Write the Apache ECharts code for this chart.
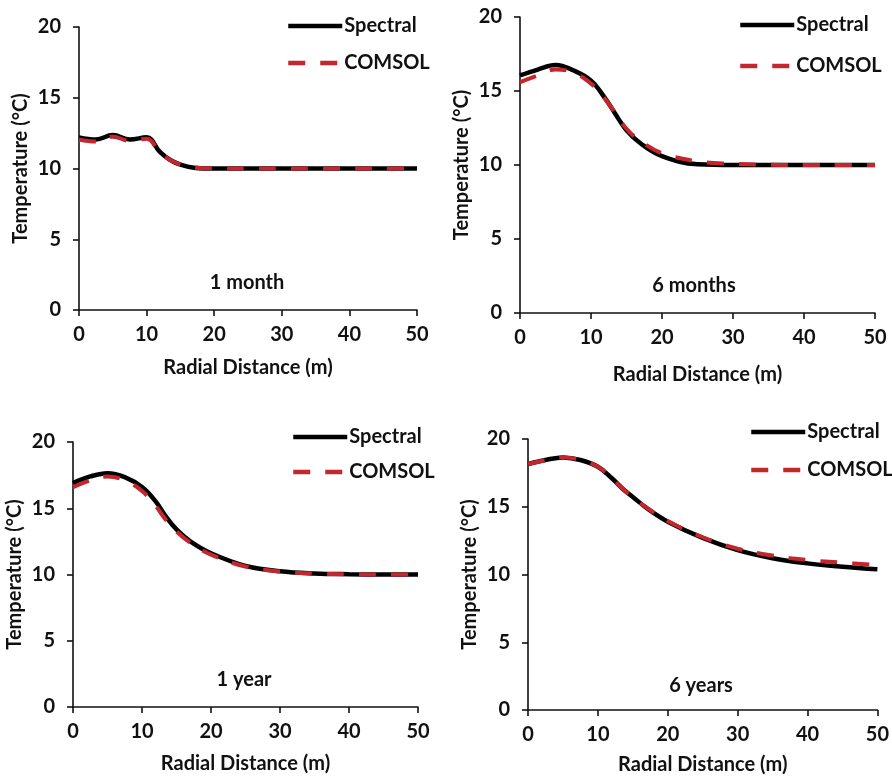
<!DOCTYPE html>
<html>
<head>
<meta charset="utf-8">
<script src="https://cdn.jsdelivr.net/npm/echarts@6/dist/echarts.min.js"></script>
<style>
  html, body { margin: 0; padding: 0; background: #fff; }
  #chart { width: 892px; height: 780px; }
</style>
</head>
<body>
<div id="chart"></div>
<script>
  // radial distance samples (m), shared by all panels
  const radialDistance = [0, 2.5, 5, 7.5, 10, 12, 13.5, 15, 17, 20, 25, 30, 35, 40, 45, 50];

  // temperature (°C)
  const spectral1Month = [12.2, 12.05, 12.37, 12.05, 12.2, 11.15, 10.6, 10.28, 10.06, 10.0, 10.0, 10.0, 10.0, 10.0, 10.0, 10.0];
  const comsol1Month   = [12.05, 11.9, 12.25, 11.95, 12.1, 11.1, 10.6, 10.28, 10.06, 10.0, 10.0, 10.0, 10.0, 10.0, 10.0, 10.0];

  const spectral6Months = [16.05, 16.45, 16.75, 16.4, 15.7, 14.5, 13.4, 12.35, 11.45, 10.6, 10.05, 10.0, 10.0, 10.0, 10.0, 10.0];
  const comsol6Months   = [15.6, 16.05, 16.45, 16.25, 15.5, 14.45, 13.45, 12.45, 11.6, 10.8, 10.25, 10.08, 10.02, 10.0, 10.0, 10.0];

  const spectral1Year = [16.9, 17.4, 17.65, 17.35, 16.6, 15.5, 14.35, 13.4, 12.5, 11.6, 10.65, 10.25, 10.08, 10.02, 10.0, 10.0];
  const comsol1Year   = [16.6, 17.1, 17.4, 17.1, 16.3, 15.15, 14.1, 13.25, 12.4, 11.5, 10.6, 10.22, 10.07, 10.02, 10.0, 10.0];

  const spectral6Years = [18.15, 18.45, 18.64, 18.45, 17.95, 17.1, 16.35, 15.72, 14.9, 13.9, 12.7, 11.8, 11.2, 10.82, 10.57, 10.38];
  const comsol6Years   = [18.15, 18.45, 18.64, 18.45, 17.95, 17.1, 16.35, 15.72, 14.92, 13.95, 12.75, 11.9, 11.4, 11.07, 10.87, 10.7];

  const panelLabels = ['1 month', '6 months', '1 year', '6 years'];
  const xTitle = 'Radial Distance (m)';
  const yTitle = 'Temperature (°C)';

  const FONT = 'Lato';
  const RED = '#c4262e';

  // panel layout: grid box, legend spot, label spot
  const panels = [
    { grid: { left: 79, top: 27, width: 338, height: 283 }, legend: { left: 286, top: 16, gap: 17 }, label: [247, 283], xGap: 48 },
    { grid: { left: 520, top: 17, width: 355, height: 296 }, legend: { left: 738, top: 15, gap: 21 }, label: [694, 286], xGap: 52 },
    { grid: { left: 73, top: 442, width: 345, height: 265 }, legend: { left: 291, top: 427, gap: 15 }, label: [244, 680], xGap: 47 },
    { grid: { left: 528, top: 439, width: 351, height: 271 }, legend: { left: 749, top: 422, gap: 18 }, label: [701, 686], xGap: 45 }
  ];
  const seriesData = [
    [spectral1Month, comsol1Month],
    [spectral6Months, comsol6Months],
    [spectral1Year, comsol1Year],
    [spectral6Years, comsol6Years]
  ];

  const pairs = ys => radialDistance.map((x, i) => [x, ys[i]]);

  const axisLine = { show: true, lineStyle: { color: '#111', width: 1.6 } };
  const axisTick = { show: true, inside: false, length: 6, lineStyle: { color: '#111', width: 1.6 } };
  const labelStyle = { color: '#111', fontFamily: FONT, fontWeight: 'bold', fontSize: 20 };

  const option = {
    backgroundColor: '#fff',
    animation: false,
    textStyle: { fontFamily: FONT },
    grid: panels.map(p => Object.assign({ containLabel: false }, p.grid)),
    xAxis: panels.map((p, i) => ({
      type: 'value',
      gridIndex: i,
      min: 0,
      max: 50,
      interval: 10,
      name: xTitle,
      nameLocation: 'middle',
      nameGap: p.xGap,
      nameTextStyle: labelStyle,
      axisLine: axisLine,
      axisTick: axisTick,
      axisLabel: Object.assign({ margin: 15 }, labelStyle),
      splitLine: { show: false }
    })),
    yAxis: panels.map((p, i) => ({
      type: 'value',
      gridIndex: i,
      min: 0,
      max: 20,
      interval: 5,
      name: yTitle,
      nameLocation: 'middle',
      nameGap: 48,
      nameTextStyle: labelStyle,
      axisLine: axisLine,
      axisTick: axisTick,
      axisLabel: Object.assign({ margin: 18 }, labelStyle),
      splitLine: { show: false }
    })),
    legend: panels.map(p => ({
      orient: 'vertical',
      left: p.legend.left,
      top: p.legend.top,
      padding: 0,
      itemGap: p.legend.gap,
      itemWidth: 54,
      itemHeight: 14,
      selectedMode: false,
      data: ['Spectral', 'COMSOL'],
      itemStyle: { opacity: 0 },
      lineStyle: { width: 4.5 },
      textStyle: Object.assign({ padding: [0, 0, 0, -3] }, labelStyle)
    })),
    series: [],
    graphic: panels.map((p, i) => ({
      type: 'text',
      x: p.label[0],
      y: p.label[1],
      style: {
        text: panelLabels[i],
        align: 'center',
        verticalAlign: 'middle',
        font: 'bold 20px ' + FONT,
        fill: '#111'
      }
    }))
  };

  seriesData.forEach((pair, i) => {
    option.series.push({
      name: 'Spectral',
      type: 'line',
      xAxisIndex: i,
      yAxisIndex: i,
      data: pairs(pair[0]),
      smooth: 0.4,
      symbol: 'none',
      lineStyle: { color: '#000', width: 4.5 },
      itemStyle: { color: '#000' },
      z: 2
    });
    option.series.push({
      name: 'COMSOL',
      type: 'line',
      xAxisIndex: i,
      yAxisIndex: i,
      data: pairs(pair[1]),
      smooth: 0.4,
      symbol: 'none',
      lineStyle: { color: RED, width: 4, type: [17, 15] },
      itemStyle: { color: RED },
      z: 3
    });
  });

  const chart = echarts.init(document.getElementById('chart'));
  chart.setOption(option);
  window.addEventListener('resize', () => chart.resize());
</script>
</body>
</html>
